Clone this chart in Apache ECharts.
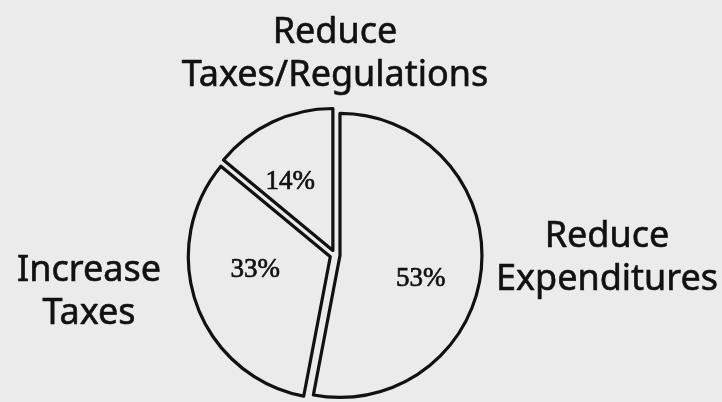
<!DOCTYPE html>
<html>
<head>
<meta charset="utf-8">
<script src="https://cdn.jsdelivr.net/npm/echarts@6/dist/echarts.min.js"></script>
<style>
html,body{margin:0;padding:0;background:#ebebeb;}
#chart{width:722px;height:402px;}
</style>
</head>
<body>
<div id="chart"></div>
<script>
// Data
const categories = ['Reduce Expenditures', 'Increase Taxes', 'Reduce Taxes/Regulations'];
const values = [53, 33, 14];
const percentLabels = ['53%', '33%', '14%'];

// Layout (styling only)
const outerLabelPos = [[607, 258], [89, 292], [335, 54]];
const innerLabelShift = [[-7, 15], [8, -17], [-5, 11]];
const CENTER = [335, 255];
const R = 142;
const BG = '#ebebeb';
const LABEL_FONT = '"Comic Sans MS", "Noto Sans", sans-serif';

const chart = echarts.init(document.getElementById('chart'), null, {renderer: 'canvas'});

const pieData = categories.map((c, i) => ({name: c, value: values[i], selected: true}));

chart.setOption({
  backgroundColor: BG,
  animation: false,
  graphic: categories.map((c, i) => ({
    type: 'text',
    x: outerLabelPos[i][0],
    y: outerLabelPos[i][1],
    silent: true,
    style: {
      text: c.replace(' ', '\n'),
      font: '36px ' + LABEL_FONT,
      lineHeight: 43,
      fill: '#111',
      stroke: '#111',
      lineWidth: 0.6,
      align: 'center',
      verticalAlign: 'middle'
    }
  })),
  series: [
    {
      type: 'pie',
      center: CENTER,
      radius: [0, R],
      startAngle: 90,
      clockwise: true,
      selectedMode: 'multiple',
      selectedOffset: 5,
      silent: true,
      data: pieData,
      itemStyle: {color: BG, borderColor: '#111', borderWidth: 3.2},
      select: {itemStyle: {color: BG, borderColor: '#111', borderWidth: 3.2}},
      emphasis: {disabled: true},
      labelLine: {show: false},
      label: {show: false}
    },
    {
      type: 'pie',
      center: CENTER,
      radius: [0, R * 1.2],
      startAngle: 90,
      clockwise: true,
      selectedMode: 'multiple',
      selectedOffset: 5,
      silent: true,
      data: pieData,
      itemStyle: {color: 'rgba(0,0,0,0)', borderWidth: 0},
      select: {itemStyle: {color: 'rgba(0,0,0,0)', borderWidth: 0}},
      emphasis: {disabled: true},
      labelLine: {show: false},
      label: {
        show: true,
        position: 'inside',
        formatter: p => percentLabels[p.dataIndex],
        fontFamily: '"Century Schoolbook", "Liberation Serif", "DejaVu Serif", serif',
        fontSize: 27,
        color: '#111',
        textBorderColor: '#111',
        textBorderWidth: 0.7
      },
      labelLayout: function (params) {
        const s = innerLabelShift[params.dataIndex];
        return {dx: s[0], dy: s[1]};
      }
    }
  ]
});
</script>
</body>
</html>
